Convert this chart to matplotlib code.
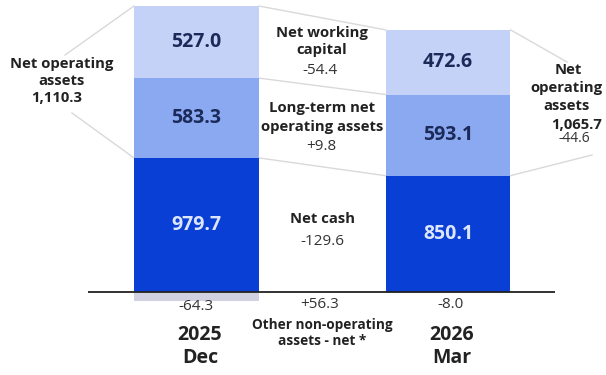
import matplotlib
matplotlib.use("Agg")
import matplotlib.pyplot as plt

plt.rcParams['font.family'] = ['Open Sans', 'DejaVu Sans']

# Balance-sheet composition (billion yen)
periods = ["2025\nDec", "2026\nMar"]
net_cash = [979.7, 850.1]
long_term_noa = [583.3, 593.1]
net_working_capital = [527.0, 472.6]
other_non_operating = [-64.3, -8.0]
net_operating_assets = [1110.3, 1065.7]

change_nwc = "-54.4"
change_ltnoa = "+9.8"
change_cash = "-129.6"
change_other = "+56.3"
change_noa = "-44.6"

C_LIGHT = "#c4d2f7"
C_MID = "#8ba9f0"
C_DARK = "#0a3fd6"
C_NEG = "#d2d1e2"
C_LINE = "#d9d9d9"
C_TXT = "#222222"
C_VAL = "#1c2a5a"

W, H = 606, 375
fig = plt.figure(figsize=(W / 100, H / 100), dpi=100)
ax = fig.add_axes([0, 0, 1, 1])
ax.axis("off")

scale = 0.13684          # px per unit
base_px = 292            # baseline pixel row
unit_px = 251.5          # distance between bar centres in px
x0_px = 196.5
ax.set_xlim(-x0_px / unit_px, (W - x0_px) / unit_px)
ax.set_ylim(-(H - base_px) / scale, base_px / scale)

xs = [0, 1]
bw = 0.497

def fx(px):
    return px / W

def fy(py):
    return 1 - py / H

# stacked bars
ax.bar(xs, net_cash, bw, color=C_DARK, zorder=2)
ax.bar(xs, long_term_noa, bw, bottom=net_cash, color=C_MID, zorder=2)
bottom3 = [a + b for a, b in zip(net_cash, long_term_noa)]
ax.bar(xs, net_working_capital, bw, bottom=bottom3, color=C_LIGHT, zorder=2)
ax.bar(xs, other_non_operating, bw, color=C_NEG, zorder=1)

# baseline
ax.hlines(0, (88 - x0_px) / unit_px, (555 - x0_px) / unit_px, color="#222222", lw=1.3, zorder=3)

# connectors between the two bars
tops = [[a + b + c for a, b, c in zip(net_cash, long_term_noa, net_working_capital)],
        bottom3, net_cash]
for lev in tops:
    ax.plot([xs[0] + bw / 2, xs[1] - bw / 2], [lev[0], lev[1]], color=C_LINE, lw=1, zorder=1)

# bracket lines to the operating-asset labels
def px_to_data(px, py):
    return (px - x0_px) / unit_px, (base_px - py) / scale

for (xa, ya), (px, py) in [((xs[0] - bw / 2, tops[0][0]), (65, 55)),
                           ((xs[0] - bw / 2, net_cash[0]), (72, 113)),
                           ((xs[1] + bw / 2, tops[0][1]), (567, 62)),
                           ((xs[1] + bw / 2, net_cash[1]), (592, 155))]:
    xb, yb = px_to_data(px, py)
    ax.plot([xa, xb], [ya, yb], color=C_LINE, lw=1, zorder=1)

# values inside the bars
VS = 14
for i in range(2):
    ax.text(xs[i], net_cash[i] / 2, f"{net_cash[i]:.1f}", ha="center", va="center",
            fontsize=VS, fontweight="bold", color="#dde6ff", zorder=4)
    ax.text(xs[i], net_cash[i] + long_term_noa[i] / 2, f"{long_term_noa[i]:.1f}",
            ha="center", va="center", fontsize=VS, fontweight="bold", color=C_VAL, zorder=4)
    ax.text(xs[i], bottom3[i] + net_working_capital[i] / 2, f"{net_working_capital[i]:.1f}",
            ha="center", va="center", fontsize=VS, fontweight="bold", color=C_VAL, zorder=4)

def lines(items):
    for txt, px, py, size, weight, col in items:
        fig.text(fx(px), fy(py), txt, ha="center", va="center", fontsize=size,
                 fontweight=weight, color=col)

B, N = "bold", "normal"
LS, NS, GREY = 10.7, 11, "#333333"
lines([
    ("Net operating", 62, 64, LS, B, C_TXT),
    ("assets", 62, 81, LS, B, C_TXT),
    (f"{net_operating_assets[0]:,.1f}", 57, 98, LS, B, C_TXT),

    ("Net working", 322, 33, LS, B, C_TXT),
    ("capital", 322, 50, LS, B, C_TXT),
    (change_nwc, 320, 70, NS, N, GREY),

    ("Long-term net", 322, 108, LS, B, C_TXT),
    ("operating assets", 322, 127, LS, B, C_TXT),
    (change_ltnoa, 321, 147, NS, N, GREY),

    ("Net cash", 323, 219, LS, B, C_TXT),
    (change_cash, 322, 241, NS, N, GREY),

    (change_other, 320, 304, NS, N, GREY),
    ("Other non-operating", 322, 325, 9.8, B, C_TXT),
    ("assets - net *", 322, 341, 9.8, B, C_TXT),

    ("Net", 568, 70, LS, B, C_TXT),
    ("operating", 566, 88, LS, B, C_TXT),
    ("assets", 567, 106, LS, B, C_TXT),
    (f"{net_operating_assets[1]:,.1f}", 577, 125, LS, B, C_TXT),
    (change_noa, 574, 139, 10, N, GREY),

    (f"{other_non_operating[0]:.1f}", 196, 306, NS, N, GREY),
    (f"{other_non_operating[1]:.1f}", 450, 305, NS, N, GREY),
])

for px, lab in zip([200, 452], periods):
    yr, mo = lab.split("\n")
    lines([(yr, px, 335, 14, B, C_TXT), (mo, px, 358, 14, B, C_TXT)])

fig.savefig("out.png", dpi=100)
